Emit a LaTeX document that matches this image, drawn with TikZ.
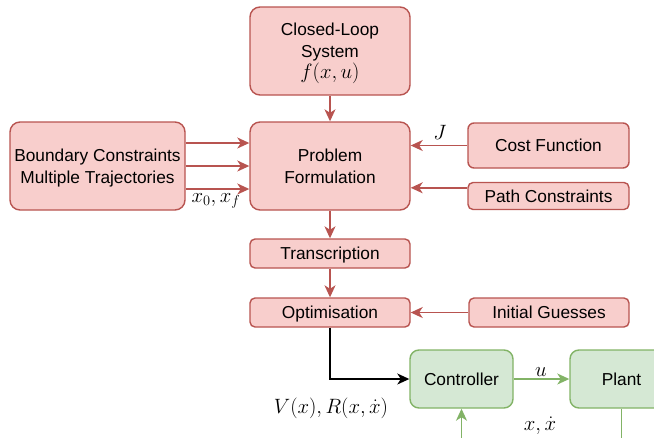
\documentclass[tikz,border=0pt]{standalone}
\usepackage{fontspec}
\setmainfont{Liberation Sans}
\usetikzlibrary{arrows.meta}
\definecolor{rfill}{HTML}{F8CECC}
\definecolor{rline}{HTML}{B85450}
\definecolor{gfill}{HTML}{D5E8D4}
\definecolor{gline}{HTML}{82B366}
\begin{document}
\begin{tikzpicture}[x=1pt,y=-1pt,
  box/.style={draw=rline, fill=rfill, line width=1.4pt, rounded corners=#1, inner sep=0pt, align=center,
    text depth=0pt, font=\fontsize{17.3}{21.5}\selectfont},
  box/.default=10pt,
  gbox/.style={box=#1, draw=gline, fill=gfill},
  gbox/.default=10pt,
  tip/.style={-{Stealth[length=12pt,width=11pt,inset=3.5pt]}},
  rarrow/.style={tip, draw=rline, line width=1.4pt},
  garrow/.style={tip, draw=gline, line width=1.4pt},
  glineonly/.style={draw=gline, line width=1.4pt},
  karrow/.style={tip, draw=black, line width=1.4pt},
  mlabel/.style={inner sep=0pt, font=\fontsize{20}{24}\selectfont}]
\clip (0,0) rectangle (654,437);
\node[box, minimum width=160pt, minimum height=88pt] (cl) at (330,51) {Closed-Loop\\System\\{\fontsize{20}{24}\selectfont$f(x,u)$}};
\node[box, minimum width=160pt, minimum height=88pt] (pf) at (330,166) {Problem\\Formulation};
\node[box, minimum width=175pt, minimum height=88pt] (bc) at (97.5,166) {Boundary Constraints\\Multiple Trajectories};
\node[box=6pt, minimum width=161pt, minimum height=45pt] (cf) at (548.5,145.5) {Cost Function};
\node[box=5pt, minimum width=161pt, minimum height=27pt] (pc) at (548.5,196) {Path Constraints};
\node[box=5pt, minimum width=160pt, minimum height=29pt] (tr) at (330,253.5) {Transcription};
\node[box=5pt, minimum width=160pt, minimum height=29pt] (op) at (330,312.5) {Optimisation};
\node[box=5pt, minimum width=160pt, minimum height=29pt] (ig) at (549,312.5) {Initial Guesses};
\node[gbox=9pt, minimum width=103pt, minimum height=58pt] (ctrl) at (461.5,379) {Controller};
\node[gbox=9pt, minimum width=103pt, minimum height=58pt] (plant) at (621.5,379) {Plant};
\draw[rarrow] (cl.south) -- (pf.north);
\foreach \d in {23,0,-23}
  \draw[rarrow] ([yshift=\d pt]bc.east) -- ([yshift=\d pt]bc.east -| pf.west);
\draw[rarrow] (cf.west) -- (cf.west -| pf.east);
\draw[rarrow] ([yshift=-6pt]pc.north west) -- ([yshift=-6pt]pc.north west -| pf.east);
\draw[rarrow] (pf) -- (tr);
\draw[rarrow] (tr) -- (op);
\draw[rarrow] (ig) -- (op);
\draw[karrow] (op.south) |- (ctrl.west);
\draw[garrow] (ctrl) -- (plant);
\coordinate (pend) at (plant.south |- 0,445);
\coordinate (cstart) at (ctrl.south |- 0,445);
\draw[glineonly] (plant.south) -- (pend);
\draw[garrow] (cstart) -- (ctrl.south);
\node[mlabel] (lx) at (216,201) {$x_0,x_f$};
\node[mlabel] (lJ) at (440,132) {$J$};
\node[mlabel] (lu) at (541,372) {$u$};
\node[mlabel] (lxd) at (540,426) {$x,\dot x$};
\node[mlabel] (lV) at (331,408) {$V(x),R(x,\dot x)$};
\end{tikzpicture}
\end{document}
